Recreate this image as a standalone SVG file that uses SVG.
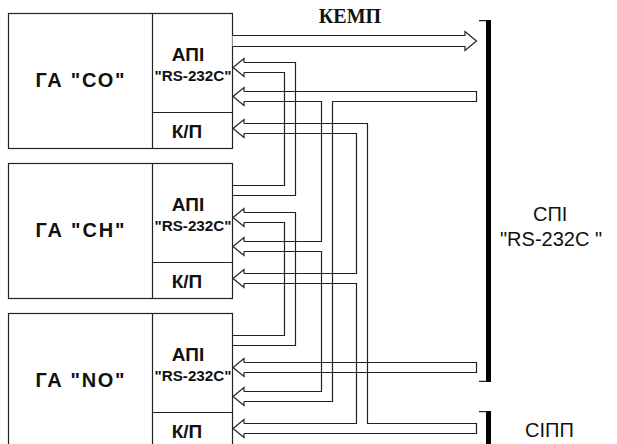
<svg xmlns="http://www.w3.org/2000/svg" width="617" height="444" viewBox="0 0 617 444">
<style>
.box{fill:#fff;stroke:#222;stroke-width:1.2}
.ln{fill:none;stroke:#222;stroke-width:1.2}
.hd{fill:#fff;stroke:#222;stroke-width:1.2}
.name{font-family:"Liberation Sans",Arial,sans-serif;font-weight:bold;font-size:20px;text-anchor:middle;fill:#111}
.api{font-family:"Liberation Sans",Arial,sans-serif;font-weight:bold;font-size:19px;text-anchor:middle;fill:#111}
.rs{font-family:"Liberation Sans",Arial,sans-serif;font-weight:bold;font-size:14px;text-anchor:middle;fill:#111}
.lbl{font-family:"Liberation Sans",Arial,sans-serif;font-size:20px;fill:#111}
.bus{fill:#000}
</style>
<rect width="617" height="444" fill="#fff"/>

<g id="block-co">
<rect class="box" x="8.5" y="13.5" width="224" height="135"/>
<path class="ln" d="M152.5,13.5V148.5M152.5,112.5H232.5"/>
<text class="name" x="80" y="87" textLength="89" lengthAdjust="spacing">ГА "СО"</text>
<text class="api" x="188" y="61">АПІ</text>
<text class="rs" x="193" y="80.5" textLength="77" lengthAdjust="spacingAndGlyphs">"RS-232C"</text>
<text class="api" x="187" y="137.5">К/П</text>
</g>

<g id="block-ch">
<rect class="box" x="8.5" y="163.5" width="224" height="135"/>
<path class="ln" d="M152.5,163.5V298.5M152.5,262.5H232.5"/>
<text class="name" x="80" y="237" textLength="89" lengthAdjust="spacing">ГА "СН"</text>
<text class="api" x="188" y="211">АПІ</text>
<text class="rs" x="193" y="230.5" textLength="77" lengthAdjust="spacingAndGlyphs">"RS-232C"</text>
<text class="api" x="187" y="287.5">К/П</text>
</g>

<g id="block-no">
<rect class="box" x="8.5" y="313.5" width="224" height="135"/>
<path class="ln" d="M152.5,313.5V448.5M152.5,412.5H232.5"/>
<text class="name" x="80" y="387" textLength="89" lengthAdjust="spacing">ГА "NO"</text>
<text class="api" x="188" y="361">АПІ</text>
<text class="rs" x="193" y="380.5" textLength="77" lengthAdjust="spacingAndGlyphs">"RS-232C"</text>
<text class="api" x="187" y="437.5">К/П</text>
</g>

<g id="bus-spi">
<rect class="bus" x="486" y="20" width="5" height="362"/>
<path class="ln" d="M479,20.6H487M479,381.4H487" stroke-width="1.5"/>
<text class="lbl" x="533" y="221">СПІ</text>
<text class="lbl" x="500" y="246">"RS-232C "</text>
</g>

<g id="bus-sipp">
<rect class="bus" x="486" y="411" width="5" height="40"/>
<path class="ln" d="M479,411.6H487" stroke-width="1.5"/>
<text class="lbl" x="525" y="437">СІПП</text>
</g>

<g id="connectors">
<!-- KEMP output -->
<path class="hd" d="M232.5,35.5H465V31.5L476.5,41L465,50.5V46.5H232.5"/>
<text x="350" y="23" text-anchor="middle" font-family="Liberation Serif,Times New Roman,serif" font-weight="bold" font-size="20" fill="#111">КЕМП</text>

<!-- block2 out -> block1 api in1 -->
<path class="ln" d="M232.5,185.5H284.5V72.5H244M232.5,195.5H295.5V62.5H244"/>
<!-- block3 out -> block2 api in1 -->
<path class="ln" d="M232.5,335.5H284.5V222.5H244M232.5,345.5H295.5V212.5H244"/>

<!-- SPI -> api in2 (block1 + branch) -->
<path class="ln" d="M244,91.5H476.5V101.5H332.5V401.5H244"/>
<path class="ln" d="M244,101.5H321.5V241.5H244M244,251.5H321.5V391.5H244"/>
<!-- SPI -> block3 api in1 -->
<path class="ln" d="M244,362.5H476.5V372.5H244"/>

<!-- SIPP -> K/P -->
<path class="ln" d="M244,123.5H367.5V423.5H476.5V433.5H244"/>
<path class="ln" d="M244,133.5H356.5V273.5H244M244,283.5H356.5V423.5H244"/>

<!-- arrowheads -->
<path class="ln" d="M244,62.5V58.5L233,67.5L244,76.5V72.5"/>
<path class="ln" d="M244,91.5V87.5L233,96.5L244,105.5V101.5"/>
<path class="ln" d="M244,123.5V119.5L233,128.5L244,137.5V133.5"/>
<path class="ln" d="M244,212.5V208.5L233,217.5L244,226.5V222.5"/>
<path class="ln" d="M244,241.5V237.5L233,246.5L244,255.5V251.5"/>
<path class="ln" d="M244,273.5V269.5L233,278.5L244,287.5V283.5"/>
<path class="ln" d="M244,362.5V358.5L233,367.5L244,376.5V372.5"/>
<path class="ln" d="M244,391.5V387.5L233,396.5L244,405.5V401.5"/>
<path class="ln" d="M244,423.5V419.5L233,428.5L244,437.5V433.5"/>
</g>
</svg>
